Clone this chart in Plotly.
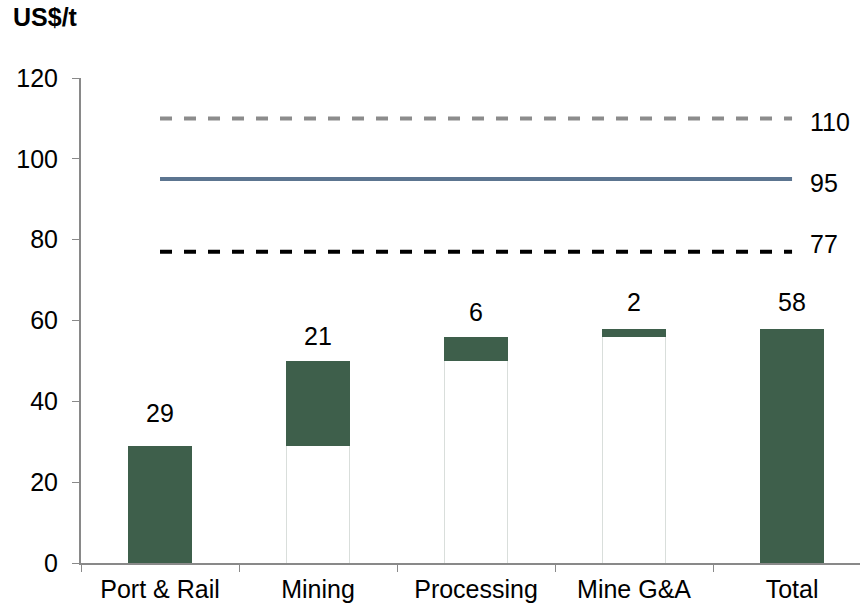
import plotly.graph_objects as go

categories = ["Port & Rail", "Mining", "Processing", "Mine G&A", "Total"]
increments = [29, 21, 6, 2, 58]
bases = [0, 29, 50, 56, 0]
ref_levels = [110, 95, 77]
ref_labels = ["110", "95", "77"]

GREEN = "#3e5f4b"
FONT = "Liberation Sans, Arial, sans-serif"

fig = go.Figure()

# white base bars
fig.add_trace(go.Bar(
    x=categories, y=bases, width=0.4,
    marker=dict(color="white", line=dict(color="#d9dedb", width=1)),
    hoverinfo="skip", showlegend=False,
))
# value bars
fig.add_trace(go.Bar(
    x=categories, y=increments, width=0.4,
    marker=dict(color=GREEN, line=dict(width=0)),
    showlegend=False,
))

line_styles = [
    dict(color="#8c8c8c", width=4, dash="dash"),
    dict(color="#5c7590", width=4, dash="solid"),
    dict(color="#000000", width=4, dash="dash"),
]
for lvl, st in zip(ref_levels, line_styles):
    fig.add_trace(go.Scatter(
        x=[categories[0], categories[-1]], y=[lvl, lvl], mode="lines",
        line=st, showlegend=False, hoverinfo="skip",
    ))

label_shifts = [-4, -4, 8]
for lvl, txt, sh in zip(ref_levels, ref_labels, label_shifts):
    fig.add_annotation(x=categories[-1], y=lvl, text=txt, showarrow=False,
                       xshift=16, yshift=sh, xanchor="left",
                       font=dict(family=FONT, size=25, color="black"))

tops = [b + v for b, v in zip(bases, increments)]
value_shifts = [33, 25, 25, 27, 27]
for c, t, v, sh in zip(categories, tops, increments, value_shifts):
    fig.add_annotation(x=c, y=t, text=str(v), showarrow=False, yshift=sh,
                       font=dict(family=FONT, size=25, color="black"))

fig.add_annotation(xref="paper", yref="paper", x=-0.09, y=1.125, xanchor="left",
                   yanchor="middle", text="<b>US$/t</b>", showarrow=False,
                   font=dict(family=FONT, size=25, color="black"))

fig.update_layout(
    width=860, height=608,
    margin=dict(l=81, r=0, t=78, b=45),
    barmode="stack",
    plot_bgcolor="white", paper_bgcolor="white",
    font=dict(family=FONT, size=25, color="black"),
    xaxis=dict(type="category", range=[-0.5, 4.43], tickson="boundaries",
               ticks="outside", ticklen=7, tickcolor="#898989",
               showline=True, linecolor="#898989", linewidth=2,
               showgrid=False, ticklabelstandoff=3, tickfont=dict(size=25)),
    yaxis=dict(range=[0, 120], dtick=20, ticks="outside", ticklen=7,
               tickcolor="#898989", showline=True, linecolor="#898989",
               linewidth=2, showgrid=False, zeroline=False,
               ticklabelstandoff=9,
               tickfont=dict(size=25)),
)

fig.write_html("out.html")
